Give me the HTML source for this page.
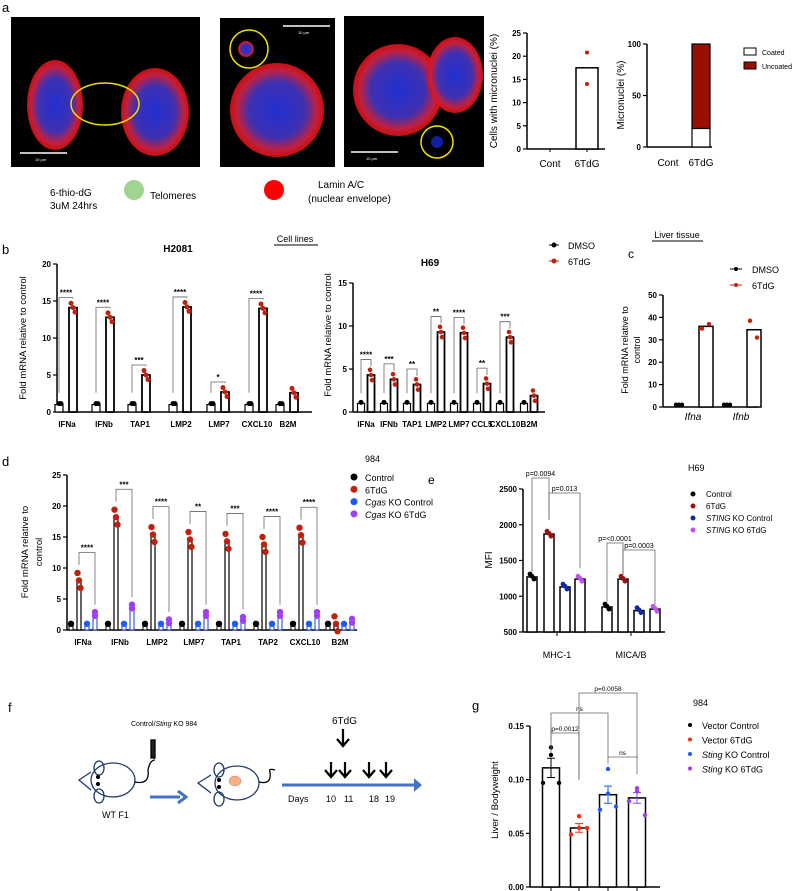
<!DOCTYPE html>
<html><head><meta charset="utf-8">
<style>
html,body{margin:0;padding:0;background:#fff;}
svg{display:block;font-family:"Liberation Sans",sans-serif;}
.tk{font-size:8px;font-weight:bold;}
.lab{font-size:9px;}
</style></head>
<body>
<svg id="fig" width="800" height="891" viewBox="0 0 800 891" xmlns="http://www.w3.org/2000/svg">
<defs>
<radialGradient id="cellg" cx="50%" cy="50%" r="50%">
<stop offset="0" stop-color="#2030d0"/><stop offset="0.6" stop-color="#4030b0"/><stop offset="0.85" stop-color="#c02040"/><stop offset="1" stop-color="#e01010" stop-opacity="0.9"/>
</radialGradient>
</defs>
<!-- panel a images -->
<g>
<rect x="11" y="17" width="189" height="150" fill="#000"/>
<ellipse cx="55" cy="105" rx="28" ry="45" fill="url(#cellg)"/>
<ellipse cx="155" cy="112" rx="34" ry="44" fill="url(#cellg)"/>
<ellipse cx="105" cy="104" rx="34" ry="21" fill="none" stroke="#f0e000" stroke-width="1.5"/>
<line x1="20" y1="153" x2="67" y2="153" stroke="#fff" stroke-width="1.5"/>
<text x="35" y="161" fill="#fff" font-size="4">10 µm</text>
</g>
<g>
<rect x="220" y="18" width="115" height="149" fill="#000"/>
<circle cx="277" cy="110" r="47" fill="url(#cellg)"/>
<circle cx="246" cy="49" r="8" fill="url(#cellg)"/>
<circle cx="249" cy="49" r="19" fill="none" stroke="#f0e000" stroke-width="1.5"/>
<line x1="283" y1="26" x2="330" y2="26" stroke="#fff" stroke-width="1.5"/>
<text x="298" y="34" fill="#fff" font-size="4">10 µm</text>
</g>
<g>
<rect x="344" y="16" width="140" height="151" fill="#000"/>
<ellipse cx="398" cy="90" rx="45" ry="46" fill="url(#cellg)"/>
<ellipse cx="455" cy="75" rx="28" ry="38" fill="url(#cellg)"/>
<circle cx="437" cy="142" r="6" fill="#1020a0"/>
<circle cx="437" cy="142" r="16" fill="none" stroke="#f0e000" stroke-width="1.5"/>
<line x1="351" y1="152" x2="398" y2="152" stroke="#fff" stroke-width="1.5"/>
<text x="366" y="160" fill="#fff" font-size="4">10 µm</text>
</g>
<text x="2" y="12" font-size="13">a</text>
<g font-size="10">
<text x="50" y="196">6-thio-dG</text><text x="50" y="209">3uM 24hrs</text>
<circle cx="134" cy="190" r="10" fill="#9fd58f"/>
<text x="150" y="199">Telomeres</text>
<circle cx="274" cy="190" r="10" fill="#ff0000"/>
<text x="318" y="188">Lamin  A/C</text>
<text x="308" y="202">(nuclear envelope)</text>
</g>
<g id="ga1"></g>
<g id="ga2"></g>
<g id="gb1"></g>
<g id="gb2"></g>
<g id="gc"></g>
<g id="gd"></g>
<g id="ge"></g>
<g id="gg"></g>

<!-- panel f schematic -->
<g fill="none" stroke="#1f3a6e" stroke-width="1.3">
<text x="8" y="712" font-size="13" fill="#000" stroke="none">f</text>
<text x="131" y="726" font-size="7" fill="#000" stroke="none">Control/<tspan font-style="italic">Sting</tspan> KO 984</text>
<ellipse cx="113" cy="780" rx="22" ry="17"/>
<ellipse cx="99" cy="768" rx="5" ry="7"/><ellipse cx="99" cy="796" rx="5" ry="7"/>
<path d="M91 772 L79 780 L91 790"/>
<circle cx="98" cy="777" r="2" fill="#000" stroke="none"/><circle cx="98" cy="784" r="2" fill="#000" stroke="none"/>
<path d="M135 782 Q150 785 148 770 Q150 760 155 760" stroke="#000"/>
<rect x="151" y="740" width="4" height="18" fill="#222" stroke="#000"/>
<text x="102" y="818" font-size="9" fill="#000" stroke="none">WT F1</text>
<line x1="150" y1="797" x2="180" y2="797" stroke="#4472c4" stroke-width="3"/>
<path d="M178 791 L186 797 L178 803" stroke="#4472c4" stroke-width="3"/>
<ellipse cx="237" cy="783" rx="22" ry="17"/>
<ellipse cx="219" cy="770" rx="5" ry="7"/><ellipse cx="219" cy="799" rx="5" ry="7"/>
<path d="M211 775 L198 783 L211 793"/>
<circle cx="219" cy="780" r="2" fill="#000" stroke="none"/><circle cx="219" cy="787" r="2" fill="#000" stroke="none"/>
<ellipse cx="235" cy="781" rx="6" ry="5" fill="#f4b183" stroke="#c08060" stroke-width="0.5"/>
<path d="M259 782 Q272 785 270 772 Q268 768 275 770" stroke="#000"/>
<line x1="282" y1="785" x2="415" y2="785" stroke="#4472c4" stroke-width="3"/>
<path d="M414 779 L421 785 L414 791" fill="#4472c4" stroke="#4472c4"/>
<g fill="#000" stroke="none" font-size="9">
<text x="288" y="802">Days</text><text x="326" y="802">10</text><text x="344" y="802">11</text><text x="369" y="802">18</text><text x="385" y="802">19</text>
<text x="332" y="724" font-size="10">6TdG</text>
</g>
<g stroke="#000" stroke-width="2.2">
<path d="M343 729 V745 M337 739 L343 746 L349 739"/>
<path d="M331 762 V776 M325 770 L331 777 L337 770"/>
<path d="M345 762 V776 M339 770 L345 777 L351 770"/>
<path d="M369 762 V776 M363 770 L369 777 L375 770"/>
<path d="M386 762 V776 M380 770 L386 777 L392 770"/>
</g>
</g>
</svg>
<script>
// ---------- DATA ----------
const a1Cats=["Cont","6TdG"];
const a1Means=[0,17.5];
const a1Reps=[[],[20.8,14]];
const a2Cats=["Cont","6TdG"];
const a2Coated=[0,18];
const a2Uncoated=[0,82];

const b1Cats=["IFNa","IFNb","TAP1","LMP2","LMP7","CXCL10","B2M"];
const b1Ctrl=[1,1,1,1,1,1,1];
const b1Trt=[14.1,12.8,5,14.2,2.7,14,2.6];
const b1Sig=["****","****","***","****","*","****",""];
const b2Cats=["IFNa","IFNb","TAP1","LMP2","LMP7","CCL5","CXCL10","B2M"];
const b2Ctrl=[1,1,1,1,1,1,1,1];
const b2Trt=[4.3,3.8,3.2,9.3,9.2,3.3,8.7,1.9];
const b2Sig=["****","***","**","**","****","**","***",""];

const cCats=["Ifna","Ifnb"];
const cCtrl=[1,1];
const cTrt=[36,34.5];
const cTrtReps=[[35,37],[38.5,31]];

const dCats=["IFNa","IFNb","LMP2","LMP7","TAP1","TAP2","CXCL10","B2M"];
const dCtrl=[1,1,1,1,1,1,1,1];
const dTrt=[8,18.2,15.4,14.6,14.3,13.8,15.3,1];
const dKoCtrl=[1,1,1,1,1,1,1,1];
const dKoTrt=[2.6,3.8,1.4,2.6,1.8,2.6,2.6,1.5];
const dSig=["****","***","****","**","***","****","****",""];

const eCats=["MHC-1","MICA/B"];
const eCtrl=[1270,850];
const eTrt=[1870,1240];
const eKoCtrl=[1130,800];
const eKoTrt=[1240,820];

const gCats=["Vector Control","Vector 6TdG","Sting KO Control","Sting KO 6TdG"];
const gMeans=[0.111,0.055,0.086,0.083];
const gSem=[0.009,0.004,0.008,0.005];
const gReps=[[0.13,0.123,0.097,0.097],[0.066,0.055,0.049,0.055],[0.11,0.087,0.072,0.075],[0.089,0.092,0.08,0.067]];

// ---------- HELPERS ----------
const NS="http://www.w3.org/2000/svg";
function mk(parent,tag,attrs,txt){const e=document.createElementNS(NS,tag);for(const k in attrs)e.setAttribute(k,attrs[k]);if(txt!==undefined)e.textContent=txt;parent.appendChild(e);return e;}
function lin(d0,d1,r0,r1){return v=>r0+(v-d0)*(r1-r0)/(d1-d0);}
function yAxis(g,x,y,ticks,fmt,x2){
  const a=mk(g,'line',{x1:x,y1:y(ticks[ticks.length-1]),x2:x,y2:y(ticks[0]),stroke:'#000','stroke-width':1.5});
  
  const xa=mk(g,'line',{x1:x,y1:y(ticks[0]),x2:x2,y2:y(ticks[0]),stroke:'#000','stroke-width':1.5});
  
  ticks.forEach(t=>{mk(g,'line',{x1:x-4,y1:y(t),x2:x,y2:y(t),stroke:'#000','stroke-width':1.2});
    const tl=mk(g,'text',{x:x-6,y:y(t)+3,'text-anchor':'end',class:'tk'},fmt?fmt(t):t);
    });
}
function ylab(g,x,y,txt,size){const t=mk(g,'text',{x:x,y:y,transform:`rotate(-90 ${x} ${y})`,'text-anchor':'middle','font-size':size||10},txt);
  return t;}
function bar(g,cx,w,y,v,stroke,sw,name){const b=mk(g,'rect',{x:cx-w/2,y:y(v),width:w,height:y(0)-y(v),fill:'#fff',stroke:stroke||'#000','stroke-width':sw||1.5});
  return b;}
function dot(g,cx,cy,r,c){const d=mk(g,'circle',{cx:cx,cy:cy,r:r,fill:c});
  return d;}
function bracket(g,x1,x2,ytop,yl,yr,label,fs){mk(g,'path',{d:`M${x1} ${yl} V${ytop} H${x2} V${yr}`,fill:'none',stroke:'#666','stroke-width':0.8});
  const t=mk(g,'text',{x:(x1+x2)/2,y:ytop-2,'text-anchor':'middle','font-size':fs||8,'font-weight':label.startsWith('p')||label=='ns'?'normal':'bold'},label);
  }
function xl(g,x,y,txt,opts){const t=mk(g,'text',Object.assign({x:x,y:y,'text-anchor':'middle',class:'tk'},opts||{}),txt);
  return t;}
const RED='#c0200e';

// ---------- a1 ----------
(function(){const g=document.getElementById('ga1');const y=lin(0,25,149,33);
 yAxis(g,527,y,[0,5,10,15,20,25],null,605);ylab(g,497,91,'Cells with micronuclei (%)',10);
 const xs=[550,587];
 a1Cats.forEach((c,i)=>{xl(g,xs[i],167,c,{class:'',style:'font-size:10px'});mk(g,'line',{x1:xs[i],y1:149,x2:xs[i],y2:152,stroke:'#000'});
  if(a1Means[i]>0)bar(g,xs[i],22,y,a1Means[i]);
  a1Reps[i].forEach(v=>dot(g,xs[i],y(v),2,RED));});
})();
// ---------- a2 ----------
(function(){const g=document.getElementById('ga2');const y=lin(0,100,147,44);
 yAxis(g,647,y,[0,50,100],null,712);ylab(g,624,95,'Micronuclei (%)',10);
 const xs=[668,701];
 a2Cats.forEach((c,i)=>{xl(g,xs[i],166,c,{class:'',style:'font-size:10px'});
  if(a2Coated[i]+a2Uncoated[i]>0){
   const r1=mk(g,'rect',{x:xs[i]-9,y:y(a2Coated[i]),width:18,height:y(0)-y(a2Coated[i]),fill:'#fff',stroke:'#000','stroke-width':1.2});
   
   const top=a2Coated[i]+a2Uncoated[i];
   const r2=mk(g,'rect',{x:xs[i]-9,y:y(top),width:18,height:y(a2Coated[i])-y(top),fill:'#990f02',stroke:'#000','stroke-width':1.2});
   }});
 const l1=mk(g,'rect',{x:744,y:48,width:12,height:7,fill:'#fff',stroke:'#000'});
 mk(g,'text',{x:762,y:55,'font-size':7},'Coated');
 const l2=mk(g,'rect',{x:744,y:62,width:12,height:7,fill:'#990f02',stroke:'#000'});
 mk(g,'text',{x:762,y:69,'font-size':7},'Uncoated');
})();
// ---------- b1 ----------
(function(){const g=document.getElementById('gb1');const y=lin(0,20,412,264);
 mk(g,'text',{x:2,y:254,'font-size':13},'b');
 mk(g,'text',{x:178,y:252,'text-anchor':'middle','font-size':10,'font-weight':'bold'},'H2081');
 mk(g,'text',{x:295,y:242,'text-anchor':'middle','font-size':9},'Cell lines');
 mk(g,'line',{x1:274,y1:245,x2:318,y2:245,stroke:'#000'});
 yAxis(g,57,y,[0,5,10,15,20],null,312);ylab(g,26,338,'Fold mRNA relative to control',9.5);
 const xs=[67,104,140,181,219,257,288];
 b1Cats.forEach((c,i)=>{const x=xs[i];xl(g,x,427,c);
  bar(g,x-8,8,y,b1Ctrl[i],'#000',1.2);bar(g,x+6,8,y,b1Trt[i],'#000',1.8);
  dot(g,x-8,y(b1Ctrl[i])-1,2.5,'#000');dot(g,x-6,y(b1Ctrl[i])-1,2.5,'#000');
  [0.6,0,-0.6].forEach((o,k)=>dot(g,x+4+k*2,y(b1Trt[i]+o),2.5,RED));
  if(b1Sig[i])bracket(g,x-8,x+6,y(Math.max(b1Trt[i],5))-14>y(20)?y(b1Trt[i])-10:y(b1Trt[i])-8,y(2.6),y(b1Trt[i]+1.2),b1Sig[i]);});
})();
// ---------- b2 ----------
(function(){const g=document.getElementById('gb2');const y=lin(0,15,412,283);
 mk(g,'text',{x:430,y:266,'text-anchor':'middle','font-size':10,'font-weight':'bold'},'H69');
 yAxis(g,353,y,[0,5,10,15],null,545);ylab(g,331,335,'Fold mRNA relative to control',9.5);
 const xs=[366,389,412,436,459,482,505,529];
 b2Cats.forEach((c,i)=>{const x=xs[i];xl(g,x,427,c);
  bar(g,x-5,7,y,b2Ctrl[i],'#000',1.2);bar(g,x+5,7,y,b2Trt[i],'#000',1.8);
  dot(g,x-5,y(b2Ctrl[i])-1,2.5,'#000');
  [0.6,0,-0.6].forEach((o,k)=>dot(g,x+4+k,y(b2Trt[i]+o),2.3,RED));
  if(b2Sig[i])bracket(g,x-5,x+5,y(b2Trt[i]+1.8),y(2.2),y(b2Trt[i]+1),b2Sig[i]);});
 mk(g,'line',{x1:549,y1:245,x2:559,y2:245,stroke:'#000'});dot(g,554,245,2.5,'#000');
 mk(g,'text',{x:568,y:249,'font-size':9},'DMSO');
 mk(g,'line',{x1:549,y1:261,x2:559,y2:261,stroke:RED});dot(g,554,261,2.5,RED);
 mk(g,'text',{x:568,y:265,'font-size':9},'6TdG');
})();
// ---------- c ----------
(function(){const g=document.getElementById('gc');const y=lin(0,50,407,295);
 mk(g,'text',{x:628,y:258,'font-size':12},'c');
 mk(g,'text',{x:677,y:238,'text-anchor':'middle','font-size':9},'Liver tissue');
 mk(g,'line',{x1:652,y1:241,x2:703,y2:241,stroke:'#000'});
 yAxis(g,663,y,[0,10,20,30,40,50],null,758);ylab(g,628,350,'Fold mRNA relative to',9);ylab(g,640,350,'control',9);
 const xs=[691,739];
 cCats.forEach((c,i)=>{const x=xs[i];xl(g,x+2,420,c,{class:'',style:'font-size:10px;font-style:italic'});
  [-15,-12,-9].forEach(o=>dot(g,x+o,y(cCtrl[i]),2.2,'#000'));
  bar(g,x+15,14,y,cTrt[i],'#000',1.5);
  dot(g,x+11,y(cTrtReps[i][0]),2.2,RED);dot(g,x+18,y(cTrtReps[i][1]),2.2,RED);});
 mk(g,'line',{x1:730,y1:269,x2:742,y2:269,stroke:'#000'});dot(g,736,269,2,'#000');
 mk(g,'text',{x:752,y:273,'font-size':9},'DMSO');
 mk(g,'line',{x1:730,y1:285,x2:742,y2:285,stroke:RED});dot(g,736,285,2,RED);
 mk(g,'text',{x:752,y:289,'font-size':9},'6TdG');
})();
// ---------- d ----------
(function(){const g=document.getElementById('gd');const y=lin(0,25,630,475);
 mk(g,'text',{x:2,y:466,'font-size':13},'d');
 yAxis(g,67,y,[0,5,10,15,20,25],null,357);ylab(g,28,552,'Fold mRNA relative to',9.5);ylab(g,42,552,'control',9.5);
 const xs=[83,120,157,194,231,268,305,340];
 dCats.forEach((c,i)=>{const x=xs[i];xl(g,x,645,c);
  bar(g,x-12,4,y,dCtrl[i],'#000',1);bar(g,x-4,4,y,dTrt[i],'#000',1.2);
  bar(g,x+4,4,y,dKoCtrl[i],'#1a3fd8',1);bar(g,x+12,4,y,dKoTrt[i],'#1a3fd8',1);
  dot(g,x-12,y(dCtrl[i]),3.2,'#000');
  [0.8,0,-0.8].forEach((o,k)=>dot(g,x-4+(k-1)*1.5,y(dTrt[i]+o*1.5),3.2,RED));
  dot(g,x+4,y(dKoCtrl[i]),3.2,'#1a5cff');
  dot(g,x+12,y(dKoTrt[i]+0.3),3.2,'#a040f0');dot(g,x+12,y(dKoTrt[i]-0.3),3.2,'#a040f0');
  if(dSig[i])bracket(g,x-4,x+12,y(dTrt[i]+4.5),y(dTrt[i]+2.5),y(dKoTrt[i]+1.5),dSig[i]);});
 mk(g,'text',{x:365,y:462,'font-size':9},'984');
 const ld=[['#000','Control'],[RED,'6TdG'],['#1a5cff','KO Control'],['#a040f0','KO 6TdG']];
 ld.forEach((l,i)=>{const c=dot(g,354,477+i*12.3,3.5,l[0]);
  const t=mk(g,'text',{x:365,y:481+i*12.3,'font-size':9});
  if(i>=2){mk(t,'tspan',{'font-style':'italic'},'Cgas');mk(t,'tspan',{},' '+l[1]);}else t.textContent=l[1];});
})();
// ---------- e ----------
(function(){const g=document.getElementById('ge');const y=lin(500,2500,632,489);
 mk(g,'text',{x:428,y:484,'font-size':12},'e');
 yAxis(g,523,y,[500,1000,1500,2000,2500],null,665);ylab(g,492,560,'MFI',10);
 const gx=[[532,549,565,580],[607,623,639,655]];
 const series=[[eCtrl,'#000'],[eTrt,'#a01010'],[eKoCtrl,'#102aa0'],[eKoTrt,'#c050f0']];
 eCats.forEach((c,i)=>{xl(g,(gx[i][1]+gx[i][2])/2,658,c,{class:'',style:'font-size:9px'});
  mk(g,'line',{x1:(gx[i][1]+gx[i][2])/2,y1:632,x2:(gx[i][1]+gx[i][2])/2,y2:636,stroke:'#000'});
  series.forEach((s,k)=>{const yb=v=>y(v);const x=gx[i][k];
   const b=mk(g,'rect',{x:x-5,y:y(s[0][i]),width:10,height:632-y(s[0][i]),fill:'#fff',stroke:'#000','stroke-width':1.5});
   
   dot(g,x-2,y(s[0][i]+40),2.4,s[1]);dot(g,x+2,y(s[0][i]-30),2.4,s[1]);dot(g,x,y(s[0][i]+10),2.4,s[1]);});});
 bracket(g,gx[0][0],gx[0][1],478,y(eCtrl[0]+60),y(eTrt[0]+200),'p=0.0094',7);
 bracket(g,gx[0][1],gx[0][3],493,y(eTrt[0]+200),y(eKoTrt[0]+150),'p=0.013',7);
 bracket(g,gx[1][0],gx[1][1],543,y(eCtrl[1]+60),y(eTrt[1]+60),'p=<0.0001',7);
 bracket(g,gx[1][1],gx[1][3],550,y(eTrt[1]+60),y(eKoTrt[1]+60),'p=0.0003',7);
 mk(g,'text',{x:688,y:471,'font-size':9},'H69');
 const ld=[['#000','Control'],['#a01010','6TdG'],['#102aa0','KO Control'],['#c050f0','KO 6TdG']];
 ld.forEach((l,i)=>{const c=dot(g,693,494+i*12,2.5,l[0]);
  const t=mk(g,'text',{x:706,y:497+i*12,'font-size':8});
  if(i>=2){mk(t,'tspan',{'font-style':'italic'},'STING');mk(t,'tspan',{},' '+l[1]);}else t.textContent=l[1];});
})();
// ---------- g ----------
(function(){const g=document.getElementById('gg');const y=lin(0,0.15,887,726);
 mk(g,'text',{x:472,y:710,'font-size':13},'g');
 yAxis(g,530,y,[0,0.05,0.1,0.15],t=>t.toFixed(2),660);ylab(g,498,800,'Liver / Bodyweight',9.5);
 const xs=[551,579,608,637];const cols=['#000','#ff2a10','#1a5cff','#9b40f0'];
 gCats.forEach((c,i)=>{const x=xs[i];
  bar(g,x,17,y,gMeans[i],'#000',1.5);
  mk(g,'path',{d:`M${x-4} ${y(gMeans[i]+gSem[i])} H${x+4} M${x} ${y(gMeans[i]+gSem[i])} V${y(gMeans[i]-gSem[i])} M${x-4} ${y(gMeans[i]-gSem[i])} H${x+4}`,stroke:cols[i],'stroke-width':1,fill:'none'});
  const off=[-8,0,8,0];
  gReps[i].forEach((v,k)=>dot(g,x+[0,0,-8,8][k]*(i==0?1:1)+(k<2?(k==0?0:0):0),y(v),2.2,cols[i]));
  mk(g,'line',{x1:x,y1:887,x2:x,y2:891,stroke:'#000'});});
 bracket(g,xs[0],xs[1],733,y(0.125),y(0.1),'p=0.0012',6.5);
 bracket(g,xs[0],xs[2],713,y(0.135),y(0.12),'ns',6.5);
 bracket(g,xs[1],xs[3],693,y(0.1),y(0.12),'p=0.0058',6.5);
 bracket(g,xs[2],xs[3],757,y(0.115),y(0.105),'ns',6.5);
 mk(g,'text',{x:693,y:706,'font-size':9},'984');
 gCats.forEach((c,i)=>{const m=dot(g,690,725+i*14.5,2,cols[i]);
  const t=mk(g,'text',{x:702,y:729+i*14.5,'font-size':9});
  if(i>=2){mk(t,'tspan',{'font-style':'italic'},'Sting');mk(t,'tspan',{},c.replace('Sting',''));}else t.textContent=c;});
})();
</script>
</body></html>
